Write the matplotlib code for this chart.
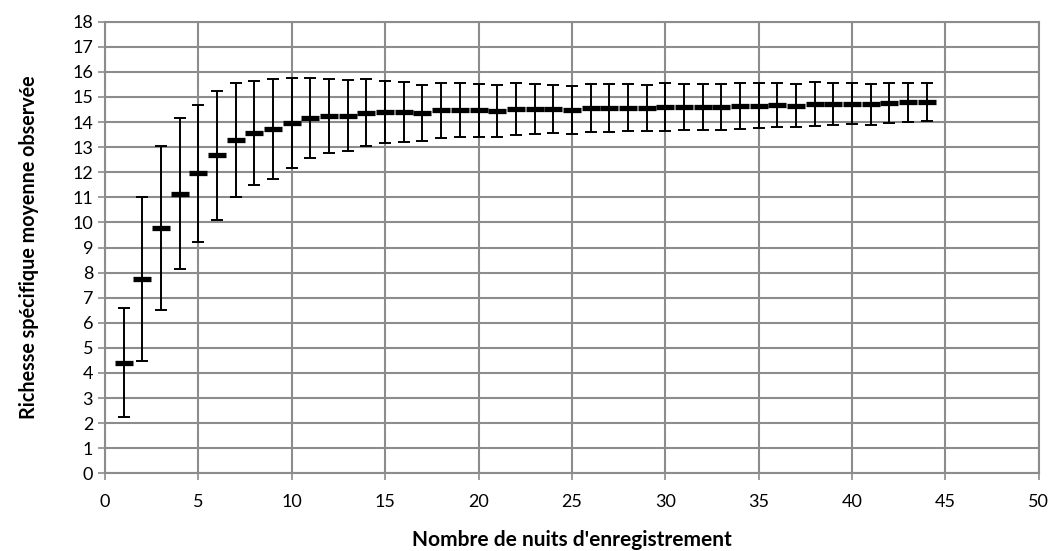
import numpy as np
import matplotlib
matplotlib.use("Agg")
import matplotlib.pyplot as plt

# nombre de nuits d'enregistrement
nuits = list(range(1, 45))

# richesse spécifique moyenne observée
moyenne = [4.41, 7.76, 9.78, 11.15, 11.95, 12.67, 13.28, 13.56, 13.72, 13.97,
           14.15, 14.25, 14.26, 14.37, 14.39, 14.40, 14.36, 14.47, 14.47, 14.47,
           14.44, 14.51, 14.52, 14.52, 14.48, 14.56, 14.56, 14.57, 14.57, 14.60,
           14.60, 14.60, 14.59, 14.65, 14.66, 14.68, 14.66, 14.72, 14.73, 14.73,
           14.71, 14.77, 14.79, 14.80]

# écart-type
ecart = [2.16, 3.27, 3.27, 3.00, 2.73, 2.58, 2.27, 2.08, 1.99, 1.80,
         1.60, 1.48, 1.41, 1.33, 1.23, 1.19, 1.13, 1.10, 1.07, 1.06,
         1.03, 1.04, 1.00, 0.97, 0.96, 0.96, 0.95, 0.93, 0.92, 0.94,
         0.93, 0.92, 0.92, 0.92, 0.90, 0.87, 0.87, 0.86, 0.84, 0.82,
         0.81, 0.79, 0.78, 0.77]

plt.rcParams['font.family'] = ['Lato', 'DejaVu Sans']

fig = plt.figure(figsize=(10.54, 5.51), dpi=100)
ax = fig.add_axes([0.0996, 0.141, 0.886, 0.8196])

grid_col = '#8c8c8c'
ax.errorbar(nuits, moyenne, yerr=ecart, fmt='none', ecolor='black',
            elinewidth=1.4, capsize=4.5, capthick=1.4, zorder=3)
ax.plot(nuits, moyenne, linestyle='none', marker='_', color='black',
        markersize=12.5, markeredgewidth=3.8, zorder=4)

ax.set_xlim(0, 50)
ax.set_ylim(0, 18)
ax.set_xticks(np.arange(0, 51, 5))
ax.set_yticks(np.arange(0, 19, 1))
ax.grid(True, color=grid_col, linewidth=1.5)
ax.set_axisbelow(True)
for s in ax.spines.values():
    s.set_color(grid_col)
    s.set_linewidth(1.5)
ax.tick_params(axis='both', colors=grid_col, labelcolor='black',
               labelsize=13, length=5, width=1.2, direction='out')
ax.tick_params(axis='x', pad=10)

ax.set_xlabel("Nombre de nuits d'enregistrement", fontsize=15,
              fontweight='bold', labelpad=14)
ax.set_ylabel("Richesse spécifique moyenne observée", fontsize=14.2,
              fontweight='bold', labelpad=24)

fig.savefig("out.png", dpi=100)
